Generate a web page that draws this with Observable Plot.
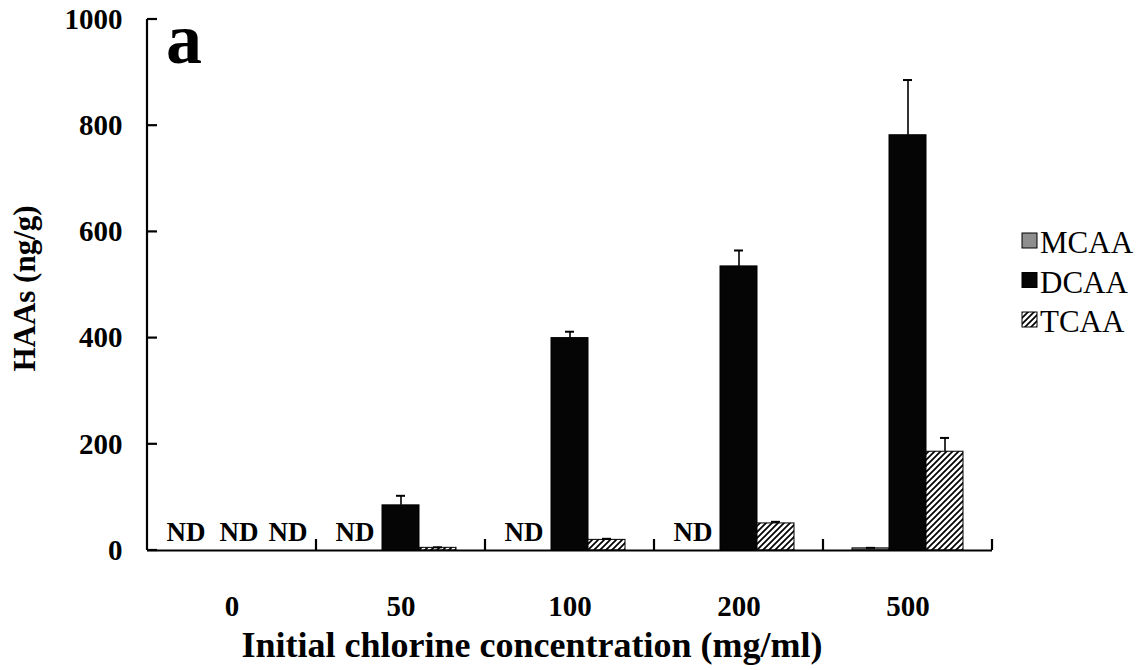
<!DOCTYPE html>
<html>
<head>
<meta charset="utf-8">
<script src="https://cdn.jsdelivr.net/npm/d3@7"></script>
<script src="https://cdn.jsdelivr.net/npm/@observablehq/plot@0.6"></script>
<style>
  html, body { margin: 0; padding: 0; background: #fff; }
  #chart { width: 1143px; height: 670px; }
</style>
</head>
<body>
<div id="chart"></div>
<script>
// Haloacetic acids formed at each initial chlorine dose (ng/g); null = not detected (ND)
const concentrations = ["0", "50", "100", "200", "500"];
const species = ["MCAA", "DCAA", "TCAA"];
const mcaa = [null, null, null, null, 4];
const dcaa = [null, 85, 400, 535, 782];
const tcaa = [null, 5, 20, 51, 186];
// standard deviations (upper error bars)
const mcaaSd = [null, null, null, null, 1];
const dcaaSd = [null, 18, 12, 30, 104];
const tcaaSd = [null, 1, 2, 3, 26];
const yTicks = [0, 200, 400, 600, 800, 1000];

const serif = "'Liberation Serif', 'Times New Roman', Times, serif";
const speciesFill = ["#8e8e8e", "#050505", "url(#tcaa-hatch)"];

const series = {MCAA: [mcaa, mcaaSd], DCAA: [dcaa, dcaaSd], TCAA: [tcaa, tcaaSd]};
const rows = [];
concentrations.forEach((conc, i) => {
  species.forEach(s => {
    const [vals, sds] = series[s];
    rows.push({conc, species: s, value: vals[i], sd: sds[i]});
  });
});
const measured = rows.filter(d => d.value != null);
const withError = measured.filter(d => d.sd != null);
const notDetected = rows.filter(d => d.value == null);

// ND labels in the control group are spread a little wider than elsewhere
const ndShift = {MCAA: -9, DCAA: 7, TCAA: 19};
const ndMarks = [
  Plot.text(notDetected.filter(d => d.conc !== "0"), {
    fx: "conc", x: "species", y: () => 0, text: () => "ND",
    dy: -18, dx: -9, fontSize: 27, fontWeight: "bold", fill: "#000"
  }),
  ...species.map(s => Plot.text(notDetected.filter(d => d.conc === "0" && d.species === s), {
    fx: "conc", x: "species", y: () => 0, text: () => "ND",
    dy: -18, dx: ndShift[s], fontSize: 27, fontWeight: "bold", fill: "#000"
  }))
];

const plot = Plot.plot({
  width: 1143,
  height: 670,
  marginLeft: 145,
  marginRight: 150,
  marginTop: 19,
  marginBottom: 120,
  style: {fontFamily: serif, fontSize: "29px", color: "#000", background: "#fff"},
  fx: {domain: concentrations, padding: 0},
  x: {domain: species, paddingInner: 0, paddingOuter: 0.73, axis: null},
  y: {domain: [0, 1000]},
  color: {domain: species, range: speciesFill},
  marks: [
    Plot.barY(measured, {
      fx: "conc", x: "species", y: "value", fill: "species",
      stroke: "#000", strokeWidth: 1
    }),
    Plot.ruleX(withError, {
      fx: "conc", x: "species", y1: "value", y2: d => d.value + d.sd,
      stroke: "#000", strokeWidth: 1.6
    }),
    Plot.tickY(withError, {
      fx: "conc", x: "species", y: d => d.value + d.sd,
      insetLeft: 14, insetRight: 14, stroke: "#000", strokeWidth: 2
    }),
    ...ndMarks,
    Plot.ruleY([0], {stroke: "#000", strokeWidth: 2.2}),
    Plot.axisY({
      ticks: yTicks, tickSize: 0, tickPadding: 25, tickFormat: d => String(d),
      label: null, fontSize: 29, fontWeight: "bold"
    }),
    Plot.axisFx({
      anchor: "bottom", tickSize: 0, tickPadding: 45, label: null,
      fontSize: 29, fontWeight: "bold"
    })
  ]
});

const svg = d3.select(plot);
const yScale = plot.scale("y");
const fxScale = plot.scale("fx");
const y = v => yScale.apply(v);
const left = fxScale.apply(concentrations[0]);

// hatch fill for TCAA
const defs = svg.insert("defs", ":first-child");
const pat = defs.append("pattern")
  .attr("id", "tcaa-hatch").attr("patternUnits", "userSpaceOnUse")
  .attr("width", 6).attr("height", 6);
pat.append("rect").attr("width", 6).attr("height", 6).attr("fill", "#fff");
pat.append("path").attr("d", "M-1,1 l2,-2 M0,6 l6,-6 M5,7 l2,-2")
  .attr("stroke", "#000").attr("stroke-width", 1.7);

const deco = svg.append("g").attr("stroke", "#000").attr("stroke-width", 2.2);
// vertical axis line with inward ticks
deco.append("line").attr("x1", left).attr("x2", left).attr("y1", y(1000)).attr("y2", y(0));
yTicks.forEach(t => {
  deco.append("line").attr("x1", left).attr("x2", left + 10).attr("y1", y(t)).attr("y2", y(t));
});
// group separators on the horizontal axis
concentrations.forEach(c => {
  const xr = fxScale.apply(c) + fxScale.bandwidth;
  deco.append("line").attr("x1", xr).attr("x2", xr).attr("y1", y(0)).attr("y2", y(0) - 11);
});

// axis titles and panel letter
svg.append("text")
  .attr("transform", `translate(35, ${(y(0) + y(1000)) / 2 + 4}) rotate(-90)`)
  .attr("text-anchor", "middle").attr("font-size", 31).attr("font-weight", "bold")
  .attr("fill", "#000").text("HAAs (ng/g)");
svg.append("text")
  .attr("x", 532).attr("y", 657)
  .attr("text-anchor", "middle").attr("font-size", 36).attr("font-weight", "bold")
  .attr("fill", "#000").text("Initial chlorine concentration (mg/ml)");
svg.append("text")
  .attr("x", 166).attr("y", 63).attr("text-anchor", "start")
  .attr("font-size", 72).attr("font-weight", "bold")
  .attr("fill", "#000").text("a");

// legend
const legend = svg.append("g").attr("transform", "translate(1022, 233)");
species.forEach((s, i) => {
  const g = legend.append("g").attr("transform", `translate(0, ${i * 39.5})`);
  g.append("rect").attr("width", 15).attr("height", 15)
    .attr("fill", speciesFill[i]).attr("stroke", "#000").attr("stroke-width", 1);
  g.append("text").attr("x", 18).attr("y", 20).attr("font-size", 31)
    .attr("text-anchor", "start").attr("fill", "#000").text(s);
});

document.getElementById("chart").appendChild(plot);
</script>
</body>
</html>
